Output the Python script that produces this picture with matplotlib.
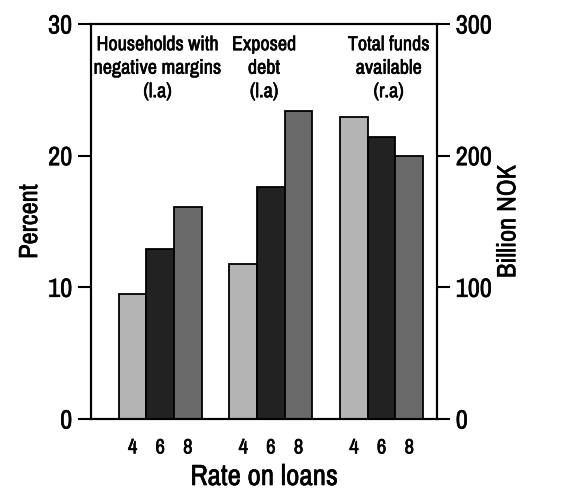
import matplotlib
matplotlib.use("Agg")
import matplotlib.pyplot as plt
import matplotlib.patheffects as pe

plt.rcParams['font.family'] = ["Archivo Narrow", "Liberation Sans", "DejaVu Sans"]
bold_fx = [pe.withStroke(linewidth=0.4, foreground="black")]

rates = ["4", "6", "8"]
neg_margins = [9.5, 12.9, 16.1]      # percent, left axis
exposed_debt = [11.8, 17.6, 23.4]    # percent, left axis
total_funds = [229, 214, 200]        # billion NOK, right axis
group_labels = ["Households with\nnegative margins\n(l.a)", "Exposed\ndebt\n(l.a)", "Total funds\navailable\n(r.a)"]
colors = ["#b4b4b4", "#222222", "#696969"]

fig = plt.figure(figsize=(5.69, 4.91), dpi=100)
ax = fig.add_axes([0.160, 0.1466, 0.608, 0.8045])
ax2 = ax.twinx()

def pos(g):
    return [g * 4 + j for j in range(3)]

for j in range(3):
    ax.bar(pos(0)[j], neg_margins[j], width=1.0, color=colors[j], edgecolor="black", linewidth=1.3)
    ax.bar(pos(1)[j], exposed_debt[j], width=1.0, color=colors[j], edgecolor="black", linewidth=1.3)
    ax2.bar(pos(2)[j], total_funds[j], width=1.0, color=colors[j], edgecolor="black", linewidth=1.3)

ax.set_xlim(-1.5, 11.0)
ax.set_ylim(0, 30)
ax2.set_ylim(0, 300)
ax.set_yticks([0, 10, 20, 30])
ax2.set_yticks([0, 100, 200, 300])
xt = pos(0) + pos(1) + pos(2)
ax.set_xticks(xt)
ax.set_xticklabels(rates * 3)

for a in (ax, ax2):
    for s in a.spines.values():
        s.set_linewidth(1.5)
ax.tick_params(axis="y", direction="out", length=9.5, width=1.5, labelsize=19, pad=4)
ax2.tick_params(axis="y", direction="out", length=9.5, width=1.5, labelsize=19, pad=4)
ax.tick_params(axis="x", length=0, labelsize=15, pad=14)

ax.set_ylabel("Percent", fontsize=19, labelpad=5)
ax2.set_ylabel("Billion NOK", fontsize=19, labelpad=3)
ax.set_xlabel("Rate on loans", fontsize=21, labelpad=4)

text_x = [0.9, 4.75, 9.25]
for x, lab in zip(text_x, group_labels):
    ax.text(x, 29.15, lab, ha="center", va="top", fontsize=14.5, linespacing=1.3)

for t in fig.findobj(matplotlib.text.Text):
    if t.get_text():
        t.set_path_effects(bold_fx)
for a in (ax, ax2):
    for t in a.get_xticklabels() + a.get_yticklabels():
        t.set_path_effects(bold_fx)

fig.savefig("out.png", dpi=100)
